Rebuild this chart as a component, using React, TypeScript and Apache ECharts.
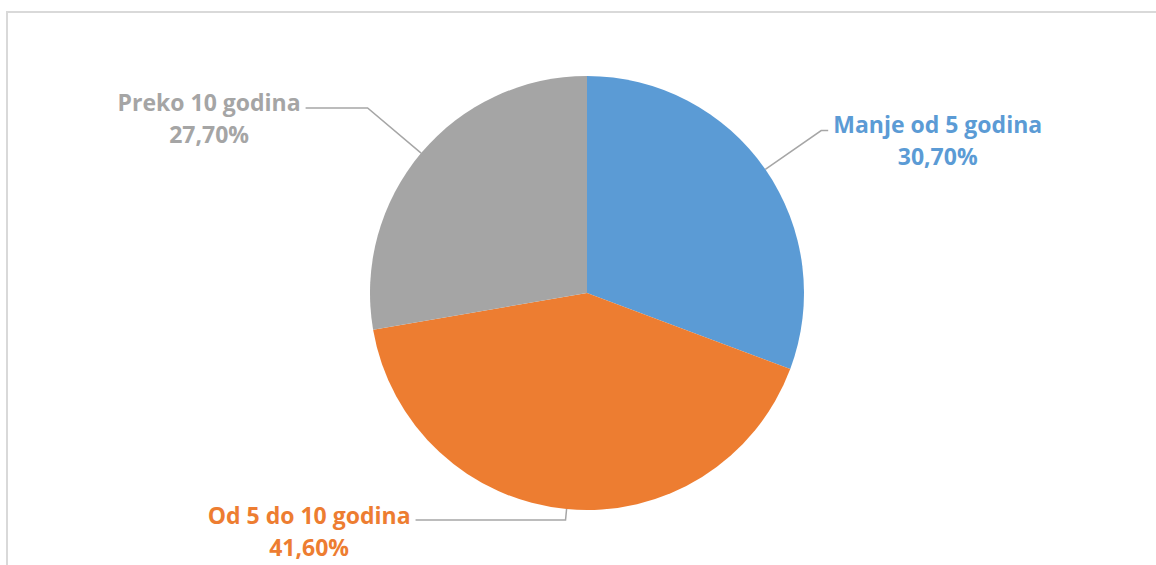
import React, { useEffect, useRef } from "react";
import * as echarts from "echarts";

const categories = ["Manje od 5 godina", "Od 5 do 10 godina", "Preko 10 godina"];
const values = [30.7, 41.6, 27.7];
const colors = ["#5B9BD5", "#ED7D31", "#A5A5A5"];
const lineLengths = [68, 11, 70];
const lineLengths2 = [7, 150, 62];
const labelPadTop = [18, 22, 20];

export default function App() {
  const ref = useRef<HTMLDivElement>(null);
  useEffect(() => {
    if (!ref.current) return;
    const chart = echarts.init(ref.current, null, { renderer: "svg" });
    const data = categories.map((name, i) => ({
      name,
      value: values[i],
      itemStyle: { color: colors[i] },
      label: {
        padding: [labelPadTop[i], 0, 0, 0],
        rich: {
          n: { color: colors[i], fontSize: 23, fontWeight: "bold", fontFamily: "Open Sans", lineHeight: 32, align: "center" },
          v: { color: colors[i], fontSize: 23, fontWeight: "bold", fontFamily: "Open Sans", lineHeight: 32, align: "center" },
        },
      },
      labelLine: { length: lineLengths[i], length2: lineLengths2[i] },
    }));
    chart.setOption({
      animation: false,
      backgroundColor: "#ffffff",
      graphic: [
        {
          type: "rect",
          shape: { x: 7, y: 12, width: 1200, height: 600 },
          style: { fill: "none", stroke: "#D9D9D9", lineWidth: 2 },
          silent: true,
        },
      ],
      series: [
        {
          type: "pie",
          center: [587, 293],
          radius: 217,
          startAngle: 90,
          clockwise: true,
          avoidLabelOverlap: false,
          data,
          label: {
            show: true,
            position: "outside",
            distanceToLabelLine: 5,
            formatter: (p: any) =>
              `{n|${p.name}}\n{v|${p.value.toFixed(2).replace(".", ",")}%}`,
          },
          labelLine: {
            show: true,
            lineStyle: { color: "#A6A6A6", width: 1.5 },
          },
          emphasis: { disabled: true },
        },
      ],
    });
    return () => chart.dispose();
  }, []);
  return (
    <div
      ref={ref}
      style={{ position: "fixed", left: 0, top: 0, width: 1156, height: 565 }}
    />
  );
}
